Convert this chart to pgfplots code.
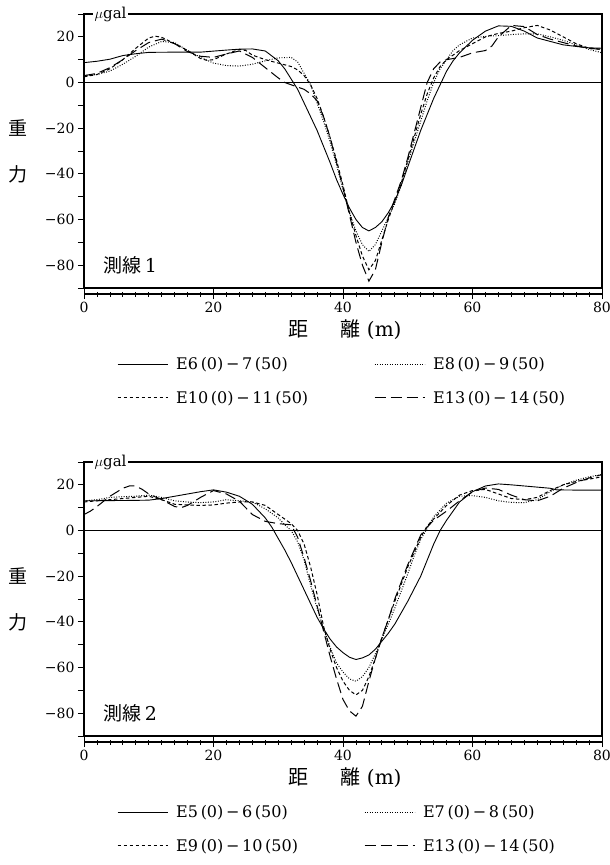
\documentclass[border=0pt]{standalone}
\usepackage{fontspec}
\setmainfont{DejaVu Serif}
\newfontfamily\jp{Noto Sans CJK JP}
\usepackage{pgfplots}
\pgfplotsset{compat=1.18}

\newcommand{\numfont}{\fontsize{14}{16}\selectfont}
\newcommand{\legfont}{\fontsize{16}{18}\selectfont}

\pgfplotsset{
  panel/.style={
    width=518pt, height=274pt, scale only axis,
    xmin=0, xmax=80, ymin=-90, ymax=30,
    xtick=\empty,
    ytick={-80,-60,-40,-20,0,20},
    yticklabels={−80,−60,−40,−20,0,20},
    minor ytick={-90,-70,-50,-30,-10,10,30},
    ytick pos=left, tick align=outside,
    major tick length=6pt, minor tick length=6pt,
    axis line style={line width=1.6pt},
    tick style={line width=0.9pt, black},
    yticklabel style={font=\numfont},
    clip=false,
    xlabel={{\jp 距}\hspace{1.6em}{\jp 離}\ (m)},
    xlabel style={at={(axis description cs:0.504,-0.152)}, anchor=center,
      font=\fontsize{20}{22}\selectfont},
    legend columns=2,
    legend cell align=left,
    legend style={draw=none, fill=none, font=\legfont,
      at={(axis description cs:0.058,-0.238)}, anchor=north west,
      row sep=16pt,
      /tikz/every odd column/.append style={column sep=6pt},
      /tikz/every even column/.append style={column sep=64pt}},
    legend image code/.code={\draw[#1] (0pt,0pt) -- (50pt,0pt);},
  },
  xbar/.style={
    width=518pt, height=274pt, scale only axis,
    xmin=0, xmax=80, ymin=0, ymax=1,
    hide y axis, axis x line*=bottom,
    xtick={0,20,40,60,80}, xticklabels={0,20,40,60,80},
    minor x tick num=9,
    tick align=center, major tick length=10pt, minor tick length=5pt,
    axis line style={line width=1.2pt},
    tick style={line width=0.8pt, black},
    xticklabel style={font=\numfont},
  },
  c1/.style={black, line width=0.9pt},
  c2/.style={black, line width=1pt, dash pattern=on 0.9pt off 1.6pt},
  c3/.style={black, line width=1pt, dash pattern=on 3.5pt off 2.5pt},
  c4/.style={black, line width=1pt, dash pattern=on 11pt off 5pt},
}

\begin{document}
\begin{tikzpicture}
\useasboundingbox (0,0) rectangle (610pt,-865pt);

% ---------------- line 1 ----------------
\begin{axis}[panel, at={(84pt,-14pt)}, anchor=north west]
\addplot[forget plot, line width=0.8pt] coordinates {(0,0) (80,0)};
% E6(0)-7(50)
\addplot[c1] coordinates {
(0,8.7) (2,9.3) (4,10.2) (6,11.8) (8,12.6) (10,13.2) (14,13.3) (18,13.3)
(22,14.2) (24,14.6) (26,14.7) (28,13.8) (30,9.5) (31,6) (32,1.5) (33,-3)
(34,-9) (35,-15) (36,-21) (37,-28) (38,-35) (39,-42.5) (40,-49) (41,-55)
(42,-60) (43,-63.5) (44,-65) (45,-63.5) (46,-61) (47,-57) (48,-52) (49,-45)
(50,-37) (51,-29) (52,-21) (53,-14) (54,-7) (55,-1) (56,5) (57,9.5) (58,13)
(60,18.5) (62,22.5) (64,24.8) (66,24.6) (68,22.5) (70,19.5) (72,18)
(74,16.5) (76,15.8) (78,15.2) (80,15)};
% E8(0)-9(50)
\addplot[c2] coordinates {
(0,3) (2,3.5) (4,5) (6,8) (8,11.5) (10,15.5) (12,18) (14,17.5) (16,14)
(18,11) (20,8.5) (22,7.4) (24,7.2) (26,8) (28,9.5) (30,10.8) (32,11) (33,9)
(34,4) (35,-1) (36,-9) (37,-17) (38,-26) (39,-36) (40,-47) (41,-57) (42,-65)
(43,-71) (44,-74) (45,-71) (46,-65) (47,-59) (48,-53) (49,-45) (50,-35)
(51,-26) (52,-17) (53,-8) (54,0) (55,6) (56,10) (57,14) (58,16.5) (60,19.5)
(62,20.2) (64,20.5) (66,21) (68,21.3) (70,21.3) (72,20) (74,18.5) (76,16.5)
(78,14.5) (80,13)};
% E10(0)-11(50)
\addplot[c3] coordinates {
(0,2.5) (2,3.5) (4,6) (6,10) (8,15) (10,19.5) (11,20.3) (12,19.8) (14,17)
(16,14) (18,10.5) (19,9.7) (20,10) (22,12.5) (24,14.5) (25,14) (26,12)
(28,10) (30,8.5) (32,7) (33,5.5) (34,3) (35,-1) (36,-7) (37,-15) (38,-24)
(39,-34) (40,-45) (41,-57) (42,-67) (43,-76) (44,-82) (45,-78) (46,-69)
(47,-60) (48,-52) (49,-44) (50,-34) (51,-24) (52,-14) (53,-5) (54,2) (55,7)
(56,10) (58,14) (60,17) (62,20) (64,21.5) (66,22.5) (68,24) (70,25) (72,23)
(74,20) (76,17) (78,15) (80,14.5)};
% E13(0)-14(50)
\addplot[c4] coordinates {
(0,3) (2,4) (4,6.5) (6,10) (8,14) (10,17.5) (12,19) (14,17) (16,13.5)
(18,11.5) (20,11) (22,12.5) (24,13.8) (26,11) (28,6.5) (30,2) (31,0)
(32,-1) (34,-3) (35,-5) (36,-8) (37,-15) (38,-24) (39,-35) (40,-46)
(41,-58) (42,-70) (43,-80) (44,-87) (45,-82) (46,-70) (47,-59) (48,-51)
(49,-43) (50,-33) (51,-22) (52,-11) (53,0) (54,6) (55,9) (56,10) (58,11)
(60,13) (62,14) (63,16) (64,20) (66,25) (68,24.5) (70,21) (72,19)
(74,17.5) (76,16) (78,15) (80,14.5)};
\legend{E6\,(0)\,−\,7\,(50), E8\,(0)\,−\,9\,(50),
        E10\,(0)\,−\,11\,(50), E13\,(0)\,−\,14\,(50)}
\node[fill=white, inner sep=1.5pt, anchor=west, font=\fontsize{15}{17}\selectfont]
  at (axis cs:0,30) [xshift=9pt] {$\mu$gal};
\node[font=\jp\fontsize{19}{19}\selectfont] at (axis cs:0,-20) [xshift=-66pt] {重};
\node[font=\jp\fontsize{19}{19}\selectfont] at (axis cs:0,-40) [xshift=-66pt] {力};
\node[anchor=west, font=\fontsize{19}{21}\selectfont] at (axis cs:2.5,-80)
  {{\jp 測線}\,1};
\end{axis}
\begin{axis}[xbar, at={(84pt,-20pt)}, anchor=north west]
\end{axis}

% ---------------- line 2 ----------------
\begin{axis}[panel, at={(84pt,-462pt)}, anchor=north west]
\addplot[forget plot, line width=0.8pt] coordinates {(0,0) (80,0)};
% E5(0)-6(50)
\addplot[c1] coordinates {
(0,13) (4,13.1) (8,13.2) (10,13.3) (12,14) (14,15) (16,16) (18,17)
(20,17.8) (22,16.8) (24,15) (26,11.5) (28,5.5) (29,1.5) (30,-3.5) (31,-8.5)
(32,-14) (33,-20) (34,-26) (35,-32) (36,-38) (37,-43) (38,-47.5) (39,-51)
(40,-53.5) (41,-55.5) (42,-56.5) (43,-55.8) (44,-54.5) (45,-52) (46,-48.5)
(47,-45) (48,-41) (50,-31) (52,-20) (54,-6) (55,0) (56,4.5) (58,12.5)
(60,17) (62,19.5) (64,20.4) (66,20) (68,19.5) (70,19) (72,18.5) (73,17.8)
(76,17.7) (80,17.7)};
% E7(0)-8(50)
\addplot[c2] coordinates {
(0,13) (2,13.5) (4,14.5) (6,14.8) (8,15) (10,15.5) (12,14.5) (14,13)
(16,12.5) (18,12.2) (20,12.5) (22,13.5) (24,13) (26,12.5) (28,9.5) (30,5.5)
(31,2.5) (32,0) (33,-5) (34,-13) (35,-24) (36,-34) (37,-43) (38,-51)
(39,-58) (40,-62) (41,-65) (42,-66) (43,-64) (44,-60) (45,-54) (46,-47.5)
(47,-41) (48,-34) (50,-19) (51,-11) (52,-4) (53,1) (54,6) (56,12) (58,15)
(60,15.3) (62,14.5) (64,13) (66,12.3) (68,12.2) (70,13.5) (72,17) (74,20)
(76,22) (78,23.5) (80,24.5)};
% E9(0)-10(50)
\addplot[c3] coordinates {
(0,12.5) (2,13) (4,13.5) (6,14) (8,14.5) (10,15) (12,13.5) (14,11.5)
(16,11.2) (18,11) (20,11.2) (22,12) (24,12.5) (26,12.5) (28,11) (30,7)
(32,3) (33,0) (34,-6) (35,-16) (36,-28) (37,-42) (38,-52) (39,-60) (40,-66)
(41,-70) (42,-72) (43,-70) (44,-64) (45,-56) (46,-47) (47,-39) (48,-31)
(50,-16) (52,-3) (53,2) (54,5) (56,11) (58,15.5) (60,17.5) (62,18) (64,16)
(66,14) (68,13.5) (70,14.5) (72,17.5) (74,20) (76,21.5) (78,22.5) (80,23.5)};
% E13(0)-14(50)
\addplot[c4] coordinates {
(0,7) (1,8.5) (2,10.5) (4,15) (6,18.5) (7,19.5) (8,19.5) (9,18) (10,16)
(12,13.5) (14,10.5) (15,10) (16,11) (18,14.5) (20,17.5) (22,16) (24,12.8)
(26,7) (28,4) (30,3) (32,2.5) (33,-3) (34,-12) (35,-22) (36,-33) (37,-44)
(38,-55) (39,-65) (40,-74) (41,-79) (42,-81.3) (43,-77) (44,-66) (45,-56)
(46,-47) (47,-39) (48,-30) (50,-15) (52,-2) (53,1.5) (54,4.5) (56,8.5)
(58,13) (60,17) (62,18.6) (64,18) (66,15.5) (68,13.5) (70,13) (72,15)
(74,18.5) (76,21) (78,23) (80,24.5)};
\legend{E5\,(0)\,−\,6\,(50), E7\,(0)\,−\,8\,(50),
        E9\,(0)\,−\,10\,(50), E13\,(0)\,−\,14\,(50)}
\node[fill=white, inner sep=1.5pt, anchor=west, font=\fontsize{15}{17}\selectfont]
  at (axis cs:0,30) [xshift=9pt] {$\mu$gal};
\node[font=\jp\fontsize{19}{19}\selectfont] at (axis cs:0,-20) [xshift=-66pt] {重};
\node[font=\jp\fontsize{19}{19}\selectfont] at (axis cs:0,-40) [xshift=-66pt] {力};
\node[anchor=west, font=\fontsize{19}{21}\selectfont] at (axis cs:2.5,-80)
  {{\jp 測線}\,2};
\end{axis}
\begin{axis}[xbar, at={(84pt,-468pt)}, anchor=north west]
\end{axis}
\end{tikzpicture}
\end{document}
